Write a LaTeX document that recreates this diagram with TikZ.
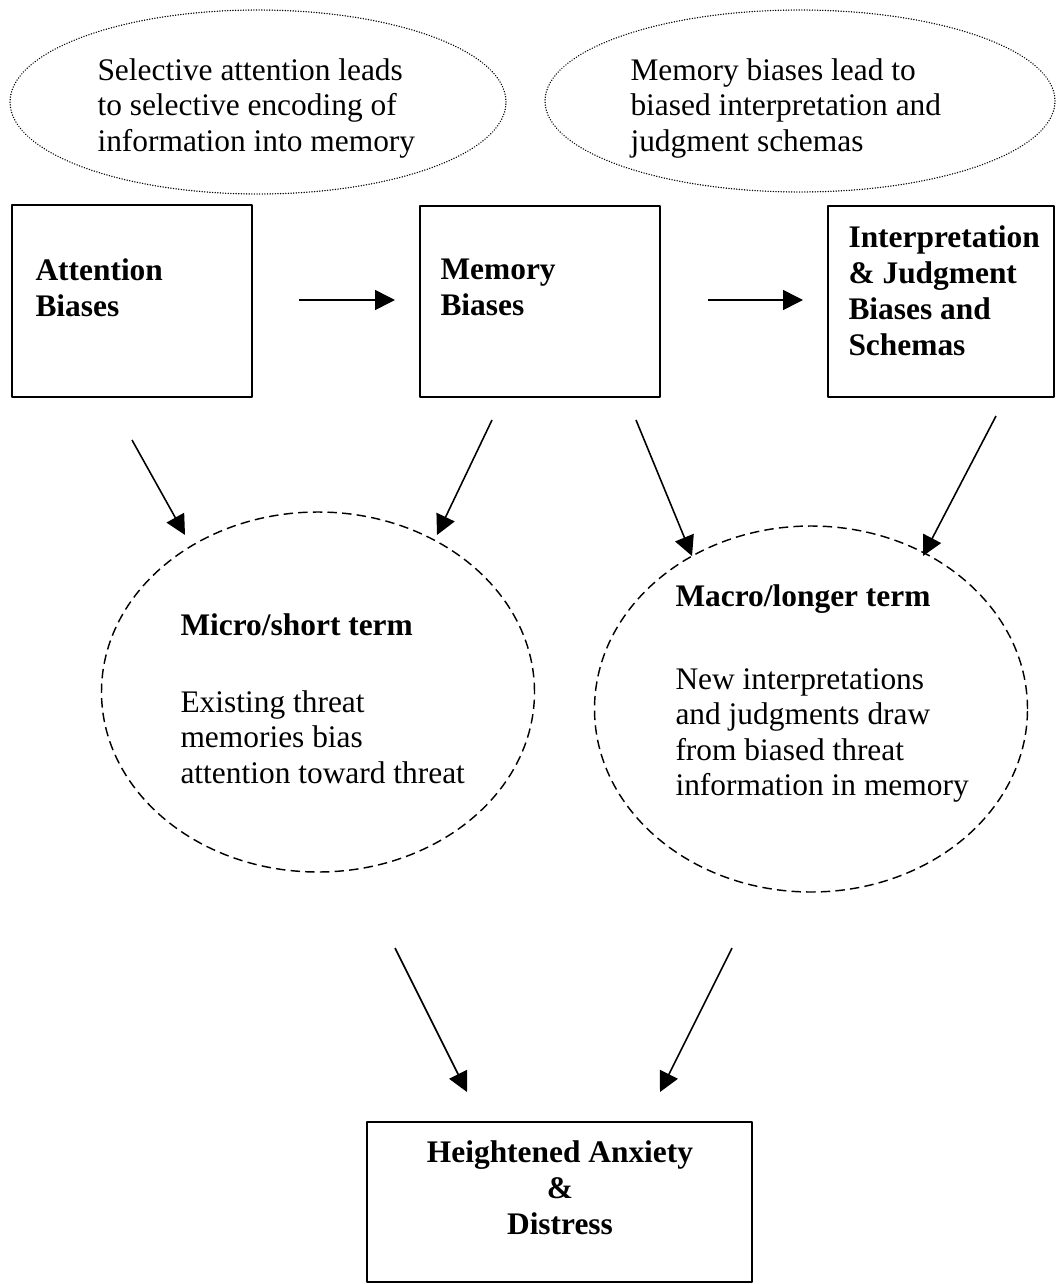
\documentclass[tikz,border=0pt]{standalone}
\usepackage{fontspec}
\setmainfont{Liberation Serif}
\usepackage{tikz}
\usetikzlibrary{arrows.meta,shapes.geometric,positioning}
\newlength{\px}
\setlength{\px}{0.382pt}

\begin{document}
\begin{tikzpicture}[x=0.382pt,y=-0.382pt,line join=round,
  >={Triangle[length=7.6pt,width=7.6pt]},
  box/.style={draw,rectangle,line width=0.75pt,inner sep=0},
  dotell/.style={draw,ellipse,line width=0.55pt,line cap=round,dash pattern=on 0.05pt off 0.95pt,inner sep=0},
  dashell/.style={draw,ellipse,line width=0.55pt,dash pattern=on 3.6pt off 2pt,inner sep=0},
  txt/.style={anchor=north west,align=left,inner sep=0,font=\fontsize{12}{13.5}\selectfont},
  btxt/.style={txt,font=\fontsize{12}{13.8}\selectfont\bfseries},
  arr/.style={->,line width=0.6pt}]
\useasboundingbox (0,0) rectangle (1058,1284);

% top ellipses
\node[dotell,minimum width=496*\px,minimum height=184*\px] (ellsel) at (258,102) {};
\node[dotell,minimum width=510*\px,minimum height=182*\px] (ellmem) at (800,101) {};
\node[txt] (seltxt) at (97,58) {Selective attention leads\\to selective encoding of\\information into memory};
\node[txt] (memtxt) at (630,58) {Memory biases lead to\\biased interpretation and\\judgment schemas};

% the three bias boxes
\node[box,minimum width=240*\px,minimum height=192*\px] (att) at (132,301) {};
\node[box,minimum width=240*\px,minimum height=191*\px] (mem) at (540,301.5) {};
\node[box,minimum width=226*\px,minimum height=191*\px] (interp) at (941,301.5) {};
\node[btxt] (atttxt) at (35,258) {Attention\\Biases};
\node[btxt] (memboxtxt) at (440,258) {Memory\\Biases};
\node[btxt] (interptxt) at (848,225) {Interpretation\\\& Judgment\\Biases and\\Schemas};

% short and longer term
\node[dashell,minimum width=433*\px,minimum height=360*\px] (micro) at (318,692) {};
\node[dashell,minimum width=433*\px,minimum height=366*\px] (macro) at (811,709) {};
\node[btxt] (microtitle) at (180,613) {Micro/short term};
\node[txt] (microtxt) at (180,690) {Existing threat\\memories bias\\attention toward threat};
\node[btxt] (macrotitle) at (675,584) {Macro/longer term};
\node[txt] (macrotxt) at (675,668) {New interpretations\\and judgments draw\\from biased threat\\information in memory};

% outcome
\node[box,minimum width=385*\px,minimum height=160*\px] (anx) at (559.5,1202) {};
\node[btxt,anchor=north,align=center] (anxtxt) at (560,1140) {Heightened Anxiety\\\&\\Distress};

% arrow ends
\coordinate (h1s) at (299,300); \coordinate (h1e) at (395,300);
\coordinate (h2s) at (708,300); \coordinate (h2e) at (803,300);
\coordinate (as) at (132,440); \coordinate (ae) at (185,535);
\coordinate (bs) at (492,420); \coordinate (be) at (437,535);
\coordinate (cs) at (636,420); \coordinate (ce) at (692,556);
\coordinate (ds) at (996,416); \coordinate (de) at (923,556);
\coordinate (es) at (395,948); \coordinate (ee) at (467,1092);
\coordinate (fs) at (732,948); \coordinate (fe) at (660,1092);

\draw[arr] (h1s) -- (h1e);
\draw[arr] (h2s) -- (h2e);
\draw[arr] (as) -- (ae);
\draw[arr] (bs) -- (be);
\draw[arr] (cs) -- (ce);
\draw[arr] (ds) -- (de);
\draw[arr] (es) -- (ee);
\draw[arr] (fs) -- (fe);
\end{tikzpicture}
\end{document}
